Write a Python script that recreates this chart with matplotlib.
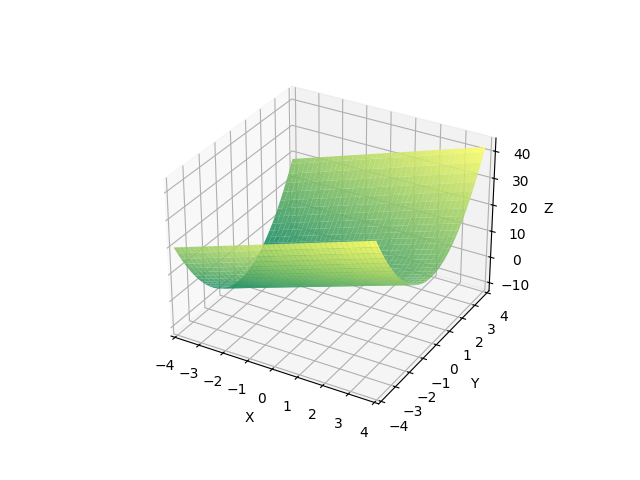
import numpy as np
import matplotlib
matplotlib.use("Agg")
import matplotlib.pyplot as plt

# values
x_vals = [-4.0, -3.8, -3.6, -3.4, -3.2, -3.0, -2.8, -2.6, -2.4, -2.2, -2.0, -1.8, -1.6, -1.4, -1.2, -1.0, -0.8, -0.6, -0.4, -0.2,
          0.0, 0.2, 0.4, 0.6, 0.8, 1.0, 1.2, 1.4, 1.6, 1.8, 2.0, 2.2, 2.4, 2.6, 2.8, 3.0, 3.2, 3.4, 3.6, 3.8, 3.9]
y_vals = list(x_vals)
# trough height across y at x=0
z_profile = [32, 28.9, 25.9, 23.1, 20.5, 18, 15.7, 13.5, 11.5, 9.7, 8, 6.5, 5.1, 3.9, 2.9, 2, 1.3, 0.7, 0.3, 0.1,
             0, 0.1, 0.3, 0.7, 1.3, 2, 2.9, 3.9, 5.1, 6.5, 8, 9.7, 11.5, 13.5, 15.7, 18, 20.5, 23.1, 25.9, 28.9, 30.4]
# rise added along x
x_rise = [-12, -11.4, -10.8, -10.2, -9.6, -9, -8.4, -7.8, -7.2, -6.6, -6, -5.4, -4.8, -4.2, -3.6, -3, -2.4, -1.8, -1.2, -0.6,
          0, 0.6, 1.2, 1.8, 2.4, 3, 3.6, 4.2, 4.8, 5.4, 6, 6.6, 7.2, 7.8, 8.4, 9, 9.6, 10.2, 10.8, 11.4, 11.7]
x_ticks = [-4, -3, -2, -1, 0, 1, 2, 3, 4]
y_ticks = [-4, -3, -2, -1, 0, 1, 2, 3, 4]
z_ticks = [-10, 0, 10, 20, 30, 40]

X, Y = np.meshgrid(x_vals, y_vals)
Z = np.add.outer(z_profile, x_rise)

fig = plt.figure()
ax = fig.add_subplot(projection='3d')
ax.plot_surface(X, Y, Z, cmap='summer', alpha=0.9)
ax.set_xlim(-4, 4, view_margin=1/48)
ax.set_ylim(-4, 4, view_margin=1/48)
ax.set_xticks(x_ticks)
ax.set_yticks(y_ticks)
ax.set_zticks(z_ticks)
ax.set_xlabel('X')
ax.set_ylabel('Y')
ax.set_zlabel('Z')
fig.savefig('out.png', dpi=100)
